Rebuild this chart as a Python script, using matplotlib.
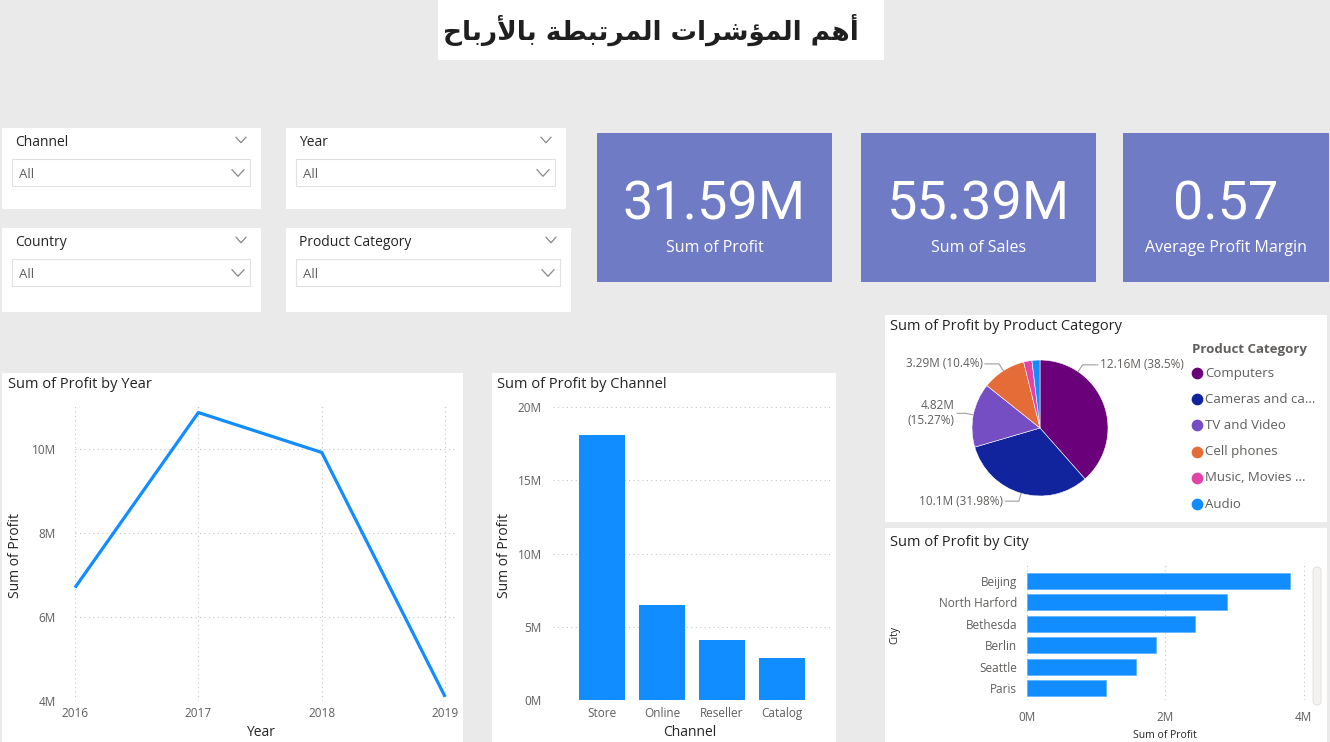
import numpy as np
import matplotlib.pyplot as plt
from matplotlib.patches import Rectangle, FancyBboxPatch

plt.rcParams['font.family'] = ['Open Sans', 'DejaVu Sans']

W, H = 1330, 742

# ---- data ----
title_text = "أهم المؤشرات المرتبطة بالأرباح"

slicer_names = ["Channel", "Year", "Country", "Product Category"]
slicer_value = "All"

kpi_values = ["31.59M", "55.39M", "0.57"]
kpi_labels = ["Sum of Profit", "Sum of Sales", "Average Profit Margin"]

years = [2016, 2017, 2018, 2019]
profit_by_year = [6.70, 10.87, 9.92, 4.10]          # millions

channels = ["Store", "Online", "Reseller", "Catalog"]
profit_by_channel = [18.10, 6.50, 4.10, 2.89]       # millions

categories = ["Computers", "Cameras and ca...", "TV and Video",
              "Cell phones", "Music, Movies ...", "Audio"]
profit_by_category = [12.16, 10.10, 4.82, 3.29, 0.62, 0.60]
category_labels = ["12.16M (38.5%)", "10.1M (31.98%)", "4.82M\n(15.27%)",
                   "3.29M (10.4%)", None, None]
category_colors = ["#6B007B", "#12239E", "#744EC2", "#E66C37", "#E044A7", "#118DFF"]

cities = ["Beijing", "North Harford", "Bethesda", "Berlin", "Seattle", "Paris"]
profit_by_city = [3.81, 2.89, 2.43, 1.86, 1.57, 1.14]  # millions

BG = "#EAEAEA"
DARK = "#252423"
GREY = "#605E5C"
BLUE = "#118DFF"
KPI = "#707BC6"
GRID = "#C8C6C4"


# matplotlib has no Arabic shaping, so map letters to presentation forms
FORMS = {
    'ا': (0xFE8D, 0xFE8E, None, None),
    'أ': (0xFE83, 0xFE84, None, None),
    'ؤ': (0xFE85, 0xFE86, None, None),
    'ر': (0xFEAD, 0xFEAE, None, None),
    'ة': (0xFE93, 0xFE94, None, None),
    'ب': (0xFE8F, 0xFE90, 0xFE91, 0xFE92),
    'ت': (0xFE95, 0xFE96, 0xFE97, 0xFE98),
    'ح': (0xFEA1, 0xFEA2, 0xFEA3, 0xFEA4),
    'ش': (0xFEB5, 0xFEB6, 0xFEB7, 0xFEB8),
    'ط': (0xFEC1, 0xFEC2, 0xFEC3, 0xFEC4),
    'ل': (0xFEDD, 0xFEDE, 0xFEDF, 0xFEE0),
    'م': (0xFEE1, 0xFEE2, 0xFEE3, 0xFEE4),
    'ه': (0xFEE9, 0xFEEA, 0xFEEB, 0xFEEC),
}
LAM_ALEF = {'ا': (0xFEFB, 0xFEFC), 'أ': (0xFEF7, 0xFEF8)}


def shape_arabic(text):
    tokens = []
    i = 0
    while i < len(text):
        c = text[i]
        if c == 'ل' and i + 1 < len(text) and text[i + 1] in LAM_ALEF:
            tokens.append(('LA', text[i + 1]))
            i += 2
        else:
            tokens.append(('C', c))
            i += 1

    def is_letter(tok):
        return tok is not None and (tok[0] == 'LA' or tok[1] in FORMS)

    def joins_next(tok):
        return tok is not None and tok[0] == 'C' and tok[1] in FORMS and FORMS[tok[1]][2] is not None

    out = []
    for k, tok in enumerate(tokens):
        prev = tokens[k - 1] if k > 0 else None
        nxt = tokens[k + 1] if k + 1 < len(tokens) else None
        p = joins_next(prev) and is_letter(tok)
        kind, c = tok
        if kind == 'LA':
            iso, fin = LAM_ALEF[c]
            out.append(chr(fin if p else iso))
            continue
        if c not in FORMS:
            out.append(c)
            continue
        iso, fin, ini, med = FORMS[c]
        n = ini is not None and is_letter(nxt)
        if p and n:
            out.append(chr(med))
        elif p:
            out.append(chr(fin))
        elif n:
            out.append(chr(ini))
        else:
            out.append(chr(iso))
    return ''.join(reversed(out))


def px_axes(x0, y0, x1, y1):
    return fig.add_axes([x0 / W, 1 - y1 / H, (x1 - x0) / W, (y1 - y0) / H])


def panel(x0, y0, x1, y1, color="white"):
    bg.add_patch(Rectangle((x0, y0), x1 - x0, y1 - y0, facecolor=color, edgecolor="none", zorder=1))


def chevron(x, y, size=5):
    bg.plot([x - size, x, x + size], [y - size * 0.55, y + size * 0.55, y - size * 0.55],
            color="#8A8886", lw=0.9, zorder=3)


def style_axes(ax):
    for s in ax.spines.values():
        s.set_visible(False)
    ax.tick_params(length=0, colors=GREY, labelsize=8.5)
    ax.set_facecolor("none")


fig = plt.figure(figsize=(W / 100, H / 100), dpi=100)
fig.patch.set_facecolor(BG)

bg = fig.add_axes([0, 0, 1, 1])
bg.set_xlim(0, W)
bg.set_ylim(H, 0)
bg.axis('off')

# ---- title ----
panel(438, 0, 884, 60)
bg.text(651, 30, shape_arabic(title_text), ha='center', va='center',
        fontsize=19, fontweight='bold', color="#1F1F1F", family='DejaVu Sans', zorder=3)

# ---- slicers ----
slicer_boxes = [(2, 128, 261, 209), (286, 128, 566, 209),
                (2, 228, 261, 312), (286, 228, 571, 312)]
for name, (x0, y0, x1, y1) in zip(slicer_names, slicer_boxes):
    panel(x0, y0, x1, y1)
    bg.text(x0 + 13, y0 + 15, name, ha='left', va='center', fontsize=10, color=DARK, zorder=3)
    chevron(x1 - 20, y0 + 12, 5)
    bg.add_patch(Rectangle((x0 + 10, y0 + 31), x1 - x0 - 21, 27, facecolor="white",
                           edgecolor="#E1E1E1", lw=0.8, zorder=2))
    bg.text(x0 + 17, y0 + 46, slicer_value, ha='left', va='center', fontsize=9.5, color=GREY, zorder=3)
    chevron(x1 - 23, y0 + 45, 6)

# ---- KPI cards ----
kpi_boxes = [(597, 133, 832, 282), (861, 133, 1096, 282), (1123, 133, 1329, 282)]
for val, lab, (x0, y0, x1, y1) in zip(kpi_values, kpi_labels, kpi_boxes):
    panel(x0, y0, x1, y1, KPI)
    cx = (x0 + x1) / 2
    bg.text(cx, 205, val, ha='center', va='center', fontsize=39, color="white",
            family=['Roboto', 'DejaVu Sans'], zorder=3)
    bg.text(cx, 248, lab, ha='center', va='center', fontsize=11.5, color="white", zorder=3)

# ---- Sum of Profit by Year ----
panel(2, 373, 463, 742)
bg.text(8, 384, "Sum of Profit by Year", ha='left', va='center', fontsize=10.5, color=DARK, zorder=3)
ax1 = px_axes(75, 405, 455, 701)
style_axes(ax1)
ax1.plot(years, profit_by_year, color=BLUE, lw=2.3, solid_capstyle='butt', clip_on=False)
ax1.set_xlim(2016, 2019.08)
ax1.set_ylim(4, 11.05)
ax1.set_xticks(years)
ax1.set_yticks([4, 6, 8, 10])
ax1.set_yticklabels([f"{v}M" for v in [4, 6, 8, 10]])
ax1.grid(True, color=GRID, lw=0.8, linestyle=(0, (1, 3)))
ax1.tick_params(axis='y', pad=14)
ax1.tick_params(axis='x', pad=4)
ax1.set_xlabel("Year", fontsize=10, color=DARK)
ax1.xaxis.set_label_coords((260 - 75) / 380, (701 - 732) / 296)
ax1.xaxis.label.set_va('center')
ax1.set_ylabel("Sum of Profit", fontsize=10, color=DARK)
ax1.yaxis.set_label_coords((15 - 75) / 380, (701 - 555) / 296)
ax1.yaxis.label.set_va('center')

# ---- Sum of Profit by Channel ----
panel(492, 373, 836, 742)
bg.text(497, 384, "Sum of Profit by Channel", ha='left', va='center', fontsize=10.5, color=DARK, zorder=3)
ax2 = px_axes(553, 400, 830, 700)
style_axes(ax2)
xpos = np.arange(len(channels))
ax2.bar(xpos, profit_by_channel, width=0.77, color=BLUE, zorder=2)
ax2.set_xlim(-0.82, 3.8)
ax2.set_ylim(0, 20.48)
ax2.set_xticks(xpos)
ax2.set_xticklabels(channels)
ax2.set_yticks([0, 5, 10, 15, 20])
ax2.set_yticklabels([f"{v}M" for v in [0, 5, 10, 15, 20]])
ax2.grid(True, axis='y', color=GRID, lw=0.8, linestyle=(0, (1, 3)))
ax2.tick_params(axis='y', pad=8)
ax2.tick_params(axis='x', pad=5)
ax2.set_xlabel("Channel", fontsize=10, color=DARK)
ax2.xaxis.set_label_coords((690 - 553) / 277, (700 - 732) / 300)
ax2.xaxis.label.set_va('center')
ax2.set_ylabel("Sum of Profit", fontsize=10, color=DARK)
ax2.yaxis.set_label_coords((505 - 553) / 277, (700 - 555) / 300)
ax2.yaxis.label.set_va('center')

# ---- Sum of Profit by Product Category ----
panel(885, 315, 1327, 522)
bg.text(890, 326, "Sum of Profit by Product Category", ha='left', va='center',
        fontsize=10.5, color=DARK, zorder=3)
ax3 = px_axes(972, 360, 1108, 496)
ax3.pie(profit_by_category, colors=category_colors, startangle=90, counterclock=False,
        radius=1, wedgeprops=dict(edgecolor="white", linewidth=0.4))
ax3.set_xlim(-1, 1)
ax3.set_ylim(-1, 1)
ax3.set_aspect('equal')

total = sum(profit_by_category)
label_text_x = [0.88, -0.54, -1.25, -0.84, None, None]
label_angle_override = [56, None, None, None, None, None]
start = 90.0
for val, lab, tx, ov in zip(profit_by_category, category_labels, label_text_x, label_angle_override):
    sweep = 360 * val / total
    mid = start - sweep / 2
    start -= sweep
    if lab is None:
        continue
    a = np.radians(ov if ov is not None else mid)
    p0 = (np.cos(a), np.sin(a))
    p1 = (1.12 * np.cos(a), 1.12 * np.sin(a))
    side = 1 if tx > 0 else -1
    p2 = (tx - side * 0.03, p1[1])
    ax3.plot([p0[0], p1[0], p2[0]], [p0[1], p1[1], p2[1]], color="#A19F9D", lw=0.8, clip_on=False)
    ax3.text(tx, p1[1], lab, ha='left' if side > 0 else 'right', va='center',
             fontsize=8.5, color=GREY, clip_on=False)

bg.text(1192, 350, "Product Category", ha='left', va='center', fontsize=9.5,
        fontweight='bold', color=GREY, zorder=3)
for k, (name, col) in enumerate(zip(categories, category_colors)):
    yy = 373 + k * 26.2
    bg.scatter([1197], [yy], s=55, color=col, zorder=3)
    bg.text(1205, yy, name, ha='left', va='center', fontsize=9.5, color=GREY, zorder=3)

# ---- Sum of Profit by City ----
panel(885, 528, 1327, 742)
bg.text(890, 543, "Sum of Profit by City", ha='left', va='center', fontsize=10.5, color=DARK, zorder=3)
ax4 = px_axes(1027, 565, 1305, 700)
style_axes(ax4)
ypos = np.arange(len(cities))
ax4.barh(ypos, profit_by_city, height=0.75, color=BLUE, edgecolor="#5AB0FF", lw=0.5, zorder=2)
ax4.set_ylim(5.56, -0.75)
ax4.set_xlim(0, 4.02)
ax4.set_yticks(ypos)
ax4.set_yticklabels(cities)
ax4.set_xticks([0, 2, 4])
ax4.set_xticklabels(["0M", "2M", "4M"])
ax4.grid(True, axis='x', color=GRID, lw=0.8, linestyle=(0, (1, 3)))
ax4.tick_params(axis='y', pad=7)
ax4.tick_params(axis='x', pad=8)
ax4.set_xlabel("Sum of Profit", fontsize=7.5, color=DARK)
ax4.xaxis.set_label_coords((1165 - 1027) / 278, (700 - 735) / 135)
ax4.xaxis.label.set_va('center')
ax4.set_ylabel("City", fontsize=7.5, color=DARK)
ax4.yaxis.set_label_coords((895 - 1027) / 278, (700 - 635) / 135)
ax4.yaxis.label.set_va('center')

# scrollbar
bg.add_patch(FancyBboxPatch((1313, 567), 8, 138, boxstyle="round,pad=0,rounding_size=4",
                            facecolor="#F3F2F1", edgecolor="#E1DFDD", lw=0.6, zorder=3))

fig.savefig("out.png", dpi=100, facecolor=fig.get_facecolor())
